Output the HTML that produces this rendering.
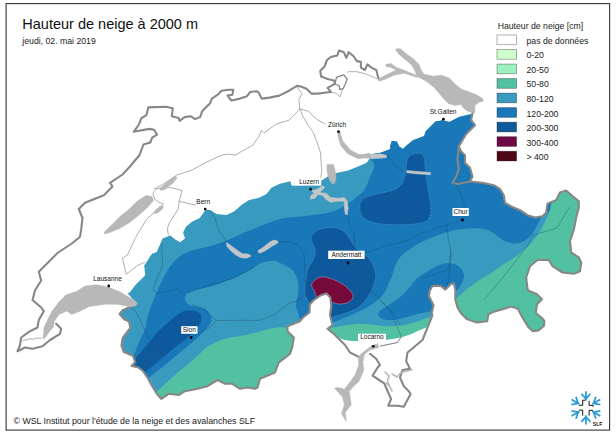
<!DOCTYPE html>
<html lang="fr"><head><meta charset="utf-8"><title>Hauteur de neige à 2000 m</title>
<style>
html,body{margin:0;padding:0;background:#fff}
body{width:616px;height:435px;overflow:hidden}
svg{display:block}
text{font-family:"Liberation Sans",sans-serif;fill:#111}
.t{font-size:14.5px}
.l{font-size:8.7px;fill:#1a1a1a}
.s{font-size:8.7px;fill:#1a1a1a}
.c{font-size:6.5px}
</style></head><body>
<svg width="616" height="435" viewBox="0 0 616 435">
<defs><clipPath id="d"><path d="M127.5,293.0 L129.5,292.8 L135.4,285.0 L145.2,275.2 L144.2,265.4 L152.0,253.7 L156.7,252.1 L160.6,243.3 L162.5,238.4 L170.4,235.5 L175.2,239.4 L180.1,242.3 L185.0,238.4 L183.1,232.5 L186.0,226.7 L191.9,221.8 L199.7,217.9 L205.5,210.0 L210.0,210.0 L216.5,214.0 L226.5,215.0 L234.0,211.5 L241.5,205.0 L249.0,200.0 L259.0,197.8 L266.5,194.0 L271.5,187.8 L279.8,183.7 L290.5,181.3 L291.5,185.6 L308.0,185.0 L321.2,180.7 L328.6,175.9 L336.4,172.9 L348.2,170.5 L358.0,166.5 L366.8,162.8 L369.2,159.0 L373.0,154.0 L380.5,152.8 L390.5,149.0 L390.0,146.5 L391.8,141.0 L396.8,141.5 L399.2,146.5 L403.0,149.0 L406.8,145.2 L413.0,140.2 L424.2,136.0 L425.5,131.5 L430.5,126.5 L435.5,121.5 L443.0,120.2 L449.3,122.0 L459.0,117.0 L473.7,113.6 L472.5,112.8 L471.2,120.2 L475.0,125.2 L466.2,134.0 L458.8,146.5 L461.2,151.5 L465.0,155.2 L465.0,162.8 L470.0,167.8 L472.5,176.5 L470.0,181.5 L482.5,182.8 L493.8,185.2 L500.0,189.0 L503.8,195.2 L505.0,202.8 L511.2,206.5 L520.0,210.2 L527.5,215.2 L535.0,217.5 L542.5,216.2 L546.2,212.5 L547.5,203.8 L556.2,200.0 L560.0,192.5 L566.2,190.5 L571.2,195.0 L578.8,201.2 L578.8,207.5 L576.2,217.5 L573.8,230.0 L570.0,241.2 L571.2,252.5 L578.8,257.5 L581.2,262.5 L580.0,271.2 L573.8,273.8 L562.5,272.5 L552.5,266.2 L548.8,260.0 L537.5,260.0 L530.0,266.2 L526.2,277.5 L527.5,288.8 L528.2,290.5 L537.0,294.2 L542.0,299.2 L537.0,304.2 L535.8,313.0 L542.0,318.0 L544.3,321.0 L544.1,325.8 L538.5,330.4 L532.8,331.3 L528.2,326.9 L521.4,315.6 L518.0,308.7 L511.1,306.6 L504.3,308.7 L492.9,312.1 L488.3,314.4 L487.2,321.3 L476.9,322.4 L466.7,319.0 L461.0,313.3 L457.6,307.6 L455.3,299.6 L455.3,290.5 L454.0,283.3 L450.9,284.0 L445.4,289.6 L440.8,285.9 L432.5,285.9 L429.8,290.5 L428.9,296.0 L433.5,305.2 L431.6,313.5 L432.5,315.0 L427.5,327.5 L422.5,340.0 L415.0,346.2 L407.5,352.5 L406.2,361.2 L410.0,368.8 L402.5,370.0 L400.0,377.5 L403.8,386.2 L408.8,391.2 L410.6,394.0 L403.8,406.8 L397.9,405.8 L388.2,405.8 L391.1,399.0 L387.2,390.2 L384.3,383.4 L378.4,379.5 L372.6,375.6 L377.5,367.8 L380.0,365.0 L376.2,358.8 L370.0,353.8 L362.5,360.0 L357.5,356.2 L350.0,352.5 L345.0,345.0 L335.0,335.0 L327.5,328.8 L332.5,325.0 L330.0,315.0 L331.3,306.5 L330.3,297.5 L326.5,293.5 L321.0,295.2 L313.3,300.5 L309.8,304.5 L309.5,312.5 L303.0,317.5 L300.0,321.2 L287.5,326.2 L287.5,331.2 L293.8,337.5 L292.5,346.2 L290.0,353.8 L278.8,362.5 L275.0,372.5 L260.0,378.8 L257.5,387.5 L255.0,388.8 L247.5,387.5 L240.0,388.8 L232.5,383.8 L225.0,383.8 L217.5,380.0 L207.5,386.2 L197.5,388.8 L185.0,391.2 L178.8,395.0 L168.8,393.8 L161.2,398.8 L157.0,394.0 L152.0,386.0 L148.0,378.5 L143.0,371.0 L137.8,367.2 L131.5,365.9 L135.3,362.1 L132.8,355.8 L123.9,352.0 L121.4,345.6 L122.7,338.0 L126.5,333.0 L130.3,327.9 L129.0,321.6 L123.9,319.0 L119.6,314.0 L122.7,310.2 L136.6,303.9Z"/></clipPath></defs>
<rect width="616" height="435" fill="#fff"/>
<g clip-path="url(#d)">
<rect x="100" y="100" width="500" height="320" fill="#3a9ac0"/>
<path d="M300.0,326.0 C297.9,326.2 291.2,327.2 287.5,327.5 C283.8,327.8 281.2,327.1 277.5,327.5 C273.8,327.9 268.8,329.1 265.0,330.0 C261.2,330.9 258.1,332.0 255.0,332.8 C251.9,333.6 250.5,334.1 246.7,334.9 C242.9,335.6 236.6,336.3 232.1,337.3 C227.6,338.3 223.6,339.1 219.5,340.7 C215.4,342.2 211.1,344.5 207.8,346.6 C204.6,348.7 203.0,350.9 200.0,353.5 C197.0,356.1 194.2,358.9 190.0,362.5 C185.8,366.1 179.6,371.0 175.0,375.0 C170.4,379.0 165.6,383.3 162.5,386.2 C159.4,389.2 158.7,389.9 156.2,392.5 C153.8,395.1 149.4,400.4 148.0,402.0 L148,420 L300,420 Z" fill="#52c1a2"/>
<path d="M125.0,362.0 C126.0,361.2 129.6,359.1 131.2,357.5 C132.9,355.9 133.8,355.0 135.0,352.5 C136.2,350.0 137.3,345.8 138.8,342.5 C140.2,339.2 142.5,335.4 143.8,332.5 C145.0,329.6 145.6,327.4 146.2,325.0 C146.8,322.6 146.4,321.0 147.1,318.2 C147.8,315.4 148.8,312.0 150.1,308.4 C151.4,304.8 153.4,300.3 154.9,296.7 C156.4,293.1 157.3,290.5 158.9,286.9 C160.5,283.3 162.8,278.8 164.7,275.2 C166.6,271.6 168.3,268.3 170.6,265.4 C172.9,262.5 175.5,259.9 178.4,257.6 C181.3,255.3 183.3,253.5 188.2,251.7 C193.1,249.9 202.4,248.2 207.7,246.8 C213.0,245.4 215.8,244.5 220.0,243.0 C224.2,241.5 228.7,239.6 233.1,237.7 C237.5,235.8 241.8,233.7 246.2,231.8 C250.6,230.0 254.9,228.3 259.3,226.6 C263.7,224.9 268.0,222.8 272.4,221.4 C276.8,220.0 280.8,218.9 285.4,218.1 C290.0,217.3 295.7,217.1 300.0,216.6 C304.3,216.1 306.9,215.7 311.0,215.2 C315.1,214.7 320.5,214.4 324.7,213.6 C328.9,212.8 332.5,211.8 336.4,210.1 C340.3,208.4 344.3,205.8 348.2,203.2 C352.1,200.6 357.0,197.0 359.9,194.4 C362.8,191.8 364.2,190.4 365.8,187.6 C367.4,184.8 368.3,181.3 369.7,177.8 C371.1,174.3 374.0,169.6 374.2,166.5 C374.5,163.4 372.0,161.8 371.0,159.0 C370.0,156.2 368.5,151.5 368.0,150.0 L368,100 L600,100 L600,214 L545.0,212.0 C544.1,213.5 541.7,217.2 539.6,220.8 C537.5,224.4 534.8,230.4 532.2,233.8 C529.6,237.2 527.2,239.4 524.2,241.0 C521.2,242.6 517.7,243.5 514.5,243.5 C511.3,243.5 507.6,242.2 504.8,241.0 C502.1,239.8 500.1,237.9 498.0,236.5 C495.9,235.1 495.1,233.8 492.5,232.5 C489.9,231.2 487.1,229.4 482.5,228.8 C477.9,228.1 470.4,228.3 465.0,228.8 C459.6,229.2 455.0,230.0 450.0,231.2 C445.0,232.5 440.0,234.3 435.0,236.2 C430.0,238.2 424.2,240.6 420.0,242.8 C415.8,245.0 413.1,246.9 409.9,249.2 C406.7,251.5 403.1,253.8 400.7,256.5 C398.2,259.2 396.6,262.6 395.2,265.7 C393.8,268.8 393.5,271.8 392.4,274.9 C391.3,278.0 390.1,281.0 388.7,284.1 C387.3,287.2 386.1,290.5 384.1,293.3 C382.1,296.1 379.6,298.4 376.8,300.7 C374.1,303.0 371.0,305.1 367.6,307.1 C364.2,309.1 360.2,310.9 356.5,312.6 C352.8,314.3 349.4,315.8 345.5,317.4 C341.6,319.0 336.9,320.9 333.0,322.5 C329.1,324.1 323.8,326.2 322.0,327.0 L310,335 L302.0,322.0 C301.7,321.7 300.8,321.4 300.2,320.0 C299.6,318.6 299.2,316.2 298.4,313.6 C297.6,311.0 295.8,307.2 295.6,304.4 C295.5,301.6 297.0,300.1 297.5,297.0 C298.0,293.9 298.7,289.7 298.4,286.0 C298.1,282.3 297.1,278.1 295.6,275.0 C294.1,271.9 291.8,269.6 289.2,267.6 C286.6,265.6 282.5,264.1 280.0,263.0 C277.5,261.9 277.1,260.8 274.0,260.8 C270.9,260.8 265.7,261.4 261.5,263.0 C257.3,264.6 253.6,268.0 249.0,270.5 C244.4,273.0 239.8,275.5 234.0,278.0 C228.2,280.5 219.8,283.6 214.0,285.5 C208.2,287.4 203.3,288.1 199.0,289.2 C194.7,290.4 190.3,291.3 188.0,292.5 C185.7,293.7 185.6,295.3 185.2,296.7 C184.8,298.1 184.8,299.1 185.6,300.6 C186.4,302.1 187.1,304.2 190.1,305.5 C193.1,306.8 200.5,306.9 203.8,308.4 C207.1,309.9 208.4,312.1 209.7,314.3 C211.0,316.5 212.2,318.9 211.4,321.5 C210.6,324.1 207.7,326.9 205.0,330.0 C202.3,333.1 199.2,336.2 195.0,340.0 C190.8,343.8 185.0,348.3 180.0,352.5 C175.0,356.7 169.6,361.2 165.0,365.0 C160.4,368.8 156.3,371.8 152.5,375.0 C148.7,378.2 143.8,382.5 142.0,384.0 L120,384 Z" fill="#1a78b9"/>
<path d="M554.0,196.0 C553.6,197.3 552.4,200.5 551.4,203.6 C550.4,206.7 550.1,210.0 548.3,214.5 C546.4,219.0 543.2,225.8 540.3,230.6 C537.3,235.4 534.6,239.2 530.6,243.5 C526.6,247.8 521.2,252.5 516.1,256.4 C511.0,260.3 504.0,264.1 500.0,266.8 C496.0,269.5 495.8,270.1 492.0,272.5 C488.2,274.9 481.6,278.5 477.5,281.2 C473.4,284.0 470.7,286.1 467.5,288.8 C464.3,291.4 461.2,294.5 458.3,296.9 C455.4,299.3 451.4,302.0 450.0,303.0 L445,345 L600,345 L600,180 L554,180 Z" fill="#52c1a2"/>
<path d="M443.6,263.8 C447.0,263.0 450.1,263.2 452.8,263.8 C455.6,264.4 458.3,265.8 460.1,267.5 C461.9,269.2 463.3,271.6 463.8,273.9 C464.3,276.2 463.8,278.9 462.9,281.3 C462.0,283.8 460.4,285.5 458.3,288.6 C456.2,291.7 453.1,296.4 450.0,300.0 C446.9,303.6 443.2,308.1 440.0,310.0 C436.8,311.9 434.1,311.0 430.7,311.6 C427.3,312.2 423.7,312.6 419.7,313.5 C415.7,314.4 411.1,316.0 406.8,317.1 C402.5,318.2 397.9,319.6 393.9,319.9 C389.9,320.2 385.5,319.8 382.9,319.0 C380.3,318.2 378.8,316.7 378.3,315.3 C377.8,313.9 378.4,312.4 380.1,310.7 C381.8,309.0 385.2,307.3 388.4,305.2 C391.6,303.1 396.0,300.6 399.4,297.8 C402.8,295.0 405.8,291.7 408.6,288.6 C411.4,285.5 413.6,281.8 416.0,279.4 C418.4,276.9 420.6,275.7 423.3,273.9 C426.1,272.1 429.1,270.1 432.5,268.4 C435.9,266.7 440.2,264.6 443.6,263.8Z" fill="#1a78b9"/>
<path d="M322.0,330.0 C322.9,329.8 324.5,329.4 327.5,328.8 C330.5,328.1 334.6,327.1 340.0,326.2 C345.4,325.4 354.2,324.0 360.0,323.8 C365.8,323.5 370.3,324.6 375.0,325.0 C379.7,325.4 383.1,326.4 388.4,326.3 C393.7,326.2 401.3,325.6 406.8,324.5 C412.3,323.4 417.4,321.3 421.5,319.9 C425.6,318.5 428.9,317.3 431.6,316.2 C434.4,315.1 436.9,313.5 438.0,313.0 L438,345 L322,345 Z" fill="#52c1a2"/>
<path d="M330.0,334.0 C331.0,334.4 333.8,335.2 336.2,336.2 C338.8,337.2 341.0,339.2 345.0,340.0 C349.0,340.8 353.3,341.2 360.0,341.2 C366.7,341.2 377.5,340.8 385.0,340.0 C392.5,339.2 399.2,337.9 405.0,336.2 C410.8,334.6 416.0,331.7 420.0,330.0 C424.0,328.3 426.1,327.6 428.8,326.2 C431.4,324.9 434.8,322.7 436.0,322.0 L440,420 L330,420 Z" fill="#fff"/>
<path d="M408.0,157.8 C409.0,156.3 410.9,154.7 413.0,154.0 C415.1,153.3 418.6,152.9 420.5,153.5 C422.4,154.1 423.4,154.8 424.2,157.8 C425.1,160.8 424.9,166.3 425.5,171.5 C426.1,176.7 427.2,183.6 428.0,189.0 C428.8,194.4 430.1,199.9 430.5,204.0 C430.9,208.1 431.1,210.8 430.5,213.5 C429.9,216.2 429.2,218.8 427.0,220.5 C424.8,222.2 422.2,222.9 417.0,223.6 C411.8,224.3 401.8,224.7 395.5,224.7 C389.2,224.7 384.0,224.3 379.4,223.6 C374.8,222.9 370.8,221.9 367.7,220.3 C364.6,218.7 362.3,216.5 361.0,214.0 C359.7,211.5 359.4,207.8 359.9,205.2 C360.4,202.6 361.2,200.1 363.8,198.3 C366.4,196.5 370.6,195.7 375.5,194.4 C380.4,193.1 388.6,192.0 393.0,190.2 C397.4,188.5 399.7,186.7 401.8,184.0 C403.8,181.3 404.7,177.5 405.5,174.0 C406.3,170.5 406.3,165.5 406.8,162.8 C407.2,160.0 407.0,159.2 408.0,157.8Z" fill="#0f5a9b" stroke="#6fa9d6" stroke-width="0.4" stroke-dasharray="2 1.2"/>
<path d="M311.3,240.0 C310.9,237.6 311.2,236.7 312.5,235.0 C313.8,233.3 316.2,230.8 318.9,229.6 C321.6,228.4 325.4,227.9 328.6,227.7 C331.9,227.5 335.5,227.6 338.4,228.6 C341.3,229.6 343.9,231.2 346.2,233.5 C348.5,235.8 350.5,239.9 352.1,242.3 C353.7,244.8 354.5,246.8 356.0,248.2 C357.5,249.6 358.6,249.0 361.0,251.0 C363.4,253.0 367.8,257.1 370.1,260.2 C372.4,263.3 373.8,266.6 374.7,269.4 C375.6,272.2 376.0,273.7 375.7,276.8 C375.4,279.9 374.4,284.1 372.9,287.8 C371.4,291.5 369.1,295.5 366.5,298.9 C363.9,302.3 361.0,305.7 357.3,308.1 C353.6,310.6 348.1,312.2 344.4,313.6 C340.7,315.0 338.4,315.2 335.2,316.3 C332.0,317.4 328.9,320.7 325.0,320.0 C321.1,319.3 314.6,314.8 312.0,312.0 C309.4,309.2 310.3,305.7 309.4,303.5 C308.5,301.3 307.5,300.9 306.7,298.9 C305.9,296.9 304.9,294.3 304.8,291.5 C304.7,288.7 305.5,285.4 305.8,282.3 C306.1,279.2 306.1,275.9 306.7,273.1 C307.3,270.4 308.2,268.2 309.4,265.8 C310.6,263.4 313.1,261.2 314.0,258.4 C314.9,255.6 315.4,252.3 315.0,249.2 C314.6,246.1 311.7,242.4 311.3,240.0Z" fill="#0f5a9b" stroke="#5b9fd0" stroke-width="0.4"/>
<path d="M187.5,310.5 C190.0,310.3 193.8,310.4 196.0,311.2 C198.2,312.0 200.1,313.6 200.9,315.2 C201.8,316.8 201.7,318.9 201.1,321.0 C200.5,323.1 199.8,324.8 197.5,327.5 C195.2,330.2 191.2,334.2 187.5,337.5 C183.8,340.8 179.6,343.8 175.0,347.5 C170.4,351.2 164.6,356.2 160.0,360.0 C155.4,363.8 151.2,367.3 147.5,370.0 C143.8,372.7 141.2,376.3 138.0,376.0 C134.8,375.7 128.5,370.9 128.0,368.0 C127.5,365.1 132.2,362.2 135.0,358.8 C137.8,355.3 141.2,351.9 145.0,347.5 C148.8,343.1 152.9,337.3 157.5,332.5 C162.1,327.7 168.6,322.1 172.5,318.8 C176.4,315.4 178.5,313.9 181.0,312.5 C183.5,311.1 185.0,310.7 187.5,310.5Z" fill="#0f5a9b"/>
<path d="M312.0,283.7 C312.9,282.1 315.5,279.0 317.8,277.9 C320.1,276.8 322.6,276.7 325.6,277.1 C328.6,277.6 332.5,279.1 335.8,280.6 C339.1,282.1 342.6,284.2 345.2,286.1 C347.8,288.1 350.1,290.6 351.4,292.3 C352.7,294.0 353.0,294.9 353.0,296.2 C353.0,297.5 352.6,298.9 351.4,300.1 C350.2,301.3 348.1,302.7 345.9,303.3 C343.7,303.9 340.3,304.1 338.1,304.0 C335.9,303.9 334.7,302.7 332.7,302.5 C330.7,302.3 328.4,303.4 326.0,303.0 C323.6,302.6 319.9,301.9 318.0,300.0 C316.1,298.1 315.6,293.6 314.7,291.5 C313.8,289.4 312.8,288.9 312.3,287.6 C311.9,286.3 311.1,285.3 312.0,283.7Z" fill="#750a3b" stroke="#c9a5c5" stroke-width="0.5"/>
</g>
<g fill="none" stroke="#8c8c8c" stroke-width="0.7"><path d="M401.5,337.0 L397.5,342.5 L380.0,346.2"/><path d="M22.5,340.6 L27.0,339.8 L30.0,338.6 L33.0,339.5 L36.0,338.0 L41.9,338.3"/><path d="M154.0,189.0 L161.5,185.2 L176.5,175.2 L191.5,170.2 L207.8,161.5 L221.5,155.2 L229.0,154.0 L235.2,155.2 L241.5,151.5 L252.8,145.2 L259.0,136.5 L261.5,130.2 L264.0,132.8 L276.5,124.0 L289.0,120.2 L299.0,110.2 L299.8,108.3"/><path d="M296.9,86.8 L301.8,93.7 L298.9,99.5 L299.8,108.3"/><path d="M299.8,108.3 L302.8,116.2 L308.6,125.9 L313.5,132.8 L316.4,140.6 L320.4,152.3 L321.3,165.0 L321.8,171.5 L320.0,182.0"/><path d="M300.5,109.0 L308.6,111.3 L316.4,119.1 L325.2,124.0"/><path d="M330.8,91.9 L336.5,93.6 L339.8,96.8 L343.0,88.7"/><path d="M347.0,72.5 L348.7,71.7 L356.8,71.7 L366.6,74.1 L375.5,78.1 L379.5,79.8"/><path d="M156.7,188.6 L152.8,193.5 L154.7,199.3 L158.6,202.2 L163.5,204.0 L154.7,212.0 L146.9,218.9 L142.0,226.7 L135.2,238.4 L127.4,255.0 L122.5,258.0 L126.2,274.2 L137.5,265.5 L145.0,262.0"/><path d="M156.7,188.6 L171.3,187.6 L182.1,190.5 L179.1,201.3 L191.9,204.2 L196.0,205.0"/><path d="M179.1,201.3 L178.2,209.1 L169.4,222.8 L167.4,228.6 L168.4,235.5"/></g>
<g fill="none" stroke="#1c4a63" stroke-width="0.5" opacity="0.75" clip-path="url(#d)"><path d="M205.2,209.1 L211.0,211.5 L215.2,218.0 L217.8,228.0 L226.5,241.8"/><path d="M250.0,256.0 L257.8,251.0"/><path d="M278.0,241.5 L289.0,241.8 L299.0,245.5 L304.0,253.0 L305.2,278.0 L306.5,293.0"/><path d="M186.5,293.0 L199.0,288.5 L211.5,284.2 L234.0,278.0 L254.0,266.8"/><path d="M191.5,304.2 L204.0,309.0 L216.5,320.5 L245.0,320.3 L259.0,320.5 L274.0,315.0 L289.0,303.0 L297.5,301.0 L307.5,292.5"/><path d="M161.8,243.0 L161.8,249.8 L162.8,265.4 L156.9,279.1 L153.0,288.9 L156.9,293.7 L168.6,290.8 L178.4,288.9 L185.2,296.7"/><path d="M130.0,307.5 L133.5,308.4 L139.3,318.2 L145.0,330.0 L152.5,345.0 L157.5,352.5"/><path d="M191.2,337.5 L210.0,327.5 L216.5,320.5"/><path d="M347.2,215.0 L350.1,226.7 L354.0,234.5 L355.0,248.2"/><path d="M388.0,155.2 L395.5,166.5 L404.2,171.5"/><path d="M456.2,184.0 L461.2,196.5 L465.0,209.0 L466.2,217.8 L462.5,220.0 L446.2,225.0 L420.0,233.8"/><path d="M446.2,225.0 L451.2,255.0 L448.8,280.0 L447.0,285.0"/><path d="M420.0,233.8 L408.0,240.5 L383.0,246.8 L365.5,253.0"/><path d="M450.9,250.0 L449.1,264.7 L447.3,270.2 L421.5,278.5"/><path d="M348.0,263.0 L363.0,285.0 L377.4,296.0 L390.2,310.7 L395.8,323.6 L401.2,336.2 L397.5,342.5 L380.0,346.2"/><path d="M380.0,300.0 L392.5,312.5 L400.0,325.0"/><path d="M569.5,207.0 L557.0,228.0 L532.0,235.5 L529.5,243.0 L504.5,275.5 L484.5,299.2"/><path d="M333.0,246.0 L348.0,263.0"/></g>
<g fill="none" stroke="#878787" stroke-width="2.1" stroke-linejoin="round" stroke-linecap="round">
<path d="M472.5,112.8 L471.2,120.2 L475.0,125.2 L466.2,134.0 L458.8,146.5 L461.2,151.5 L465.0,155.2 L465.0,162.8 L470.0,167.8 L472.5,176.5 L470.0,181.5 L482.5,182.8 L493.8,185.2 L500.0,189.0 L503.8,195.2 L505.0,202.8 L511.2,206.5 L520.0,210.2 L527.5,215.2 L535.0,217.5 L542.5,216.2 L546.2,212.5 L547.5,203.8 L556.2,200.0 L560.0,192.5 L566.2,190.5 L571.2,195.0 L578.8,201.2 L578.8,207.5 L576.2,217.5 L573.8,230.0 L570.0,241.2 L571.2,252.5 L578.8,257.5 L581.2,262.5 L580.0,271.2 L573.8,273.8 L562.5,272.5 L552.5,266.2 L548.8,260.0 L537.5,260.0 L530.0,266.2 L526.2,277.5 L527.5,288.8 L528.2,290.5 L537.0,294.2 L542.0,299.2 L537.0,304.2 L535.8,313.0 L542.0,318.0 L544.3,321.0 L544.1,325.8 L538.5,330.4 L532.8,331.3 L528.2,326.9 L521.4,315.6 L518.0,308.7 L511.1,306.6 L504.3,308.7 L492.9,312.1 L488.3,314.4 L487.2,321.3 L476.9,322.4 L466.7,319.0 L461.0,313.3 L457.6,307.6 L455.3,299.6 L455.3,290.5 L454.0,283.3 L450.9,284.0 L445.4,289.6 L440.8,285.9 L432.5,285.9 L429.8,290.5 L428.9,296.0 L433.5,305.2 L431.6,313.5 L432.5,315.0 L427.5,327.5 L422.5,340.0 L415.0,346.2 L407.5,352.5 L406.2,361.2 L410.0,368.8 L402.5,370.0 L400.0,377.5 L403.8,386.2 L408.8,391.2 L410.6,394.0 L403.8,406.8 L397.9,405.8 L388.2,405.8 L391.1,399.0 L387.2,390.2 L384.3,383.4 L378.4,379.5 L372.6,375.6 L377.5,367.8 L380.0,365.0 L376.2,358.8 L370.0,353.8"/><path d="M362.5,360.0 L357.5,356.2 L350.0,352.5 L345.0,345.0 L335.0,335.0 L327.5,328.8 L332.5,325.0 L330.0,315.0 L331.3,306.5 L330.3,297.5 L326.5,293.5 L321.0,295.2 L313.3,300.5 L309.8,304.5 L309.5,312.5 L303.0,317.5 L300.0,321.2 L287.5,326.2 L287.5,331.2 L293.8,337.5 L292.5,346.2 L290.0,353.8 L278.8,362.5 L275.0,372.5 L260.0,378.8 L257.5,387.5 L255.0,388.8 L247.5,387.5 L240.0,388.8 L232.5,383.8 L225.0,383.8 L217.5,380.0 L207.5,386.2 L197.5,388.8 L185.0,391.2 L178.8,395.0 L168.8,393.8 L161.2,398.8 L157.0,394.0 L152.0,386.0 L148.0,378.5 L143.0,371.0 L137.8,367.2 L131.5,365.9 L135.3,362.1 L132.8,355.8 L123.9,352.0 L121.4,345.6 L122.7,338.0 L126.5,333.0 L130.3,327.9 L129.0,321.6 L123.9,319.0 L119.6,314.0 L122.7,310.2 L136.6,303.9"/><path d="M56.2,323.8 L61.2,328.8 L60.0,333.8 L50.0,340.0 L42.5,346.2 L32.5,348.8 L25.0,347.5 L17.5,351.2 L20.0,345.0 L21.2,337.5 L30.0,331.2 L37.5,327.5 L38.8,320.0 L43.8,311.2 L41.2,307.5 L32.5,300.0 L35.0,290.5 L41.2,280.5 L38.8,271.8 L57.5,253.0 L72.5,243.0 L80.0,236.8 L81.2,229.2 L82.5,218.0 L78.8,209.0 L85.0,202.8 L103.8,195.2 L112.5,186.5 L110.0,182.8 L122.5,174.5 L130.0,166.5 L136.2,159.0 L139.5,155.2 L143.5,144.5 L150.3,142.5 L152.2,137.7 L157.1,134.7 L154.2,129.8 L149.3,128.9 L133.7,131.8 L138.6,125.0 L141.5,118.1 L146.4,115.2 L148.3,107.4 L165.9,106.8 L172.8,108.3 L171.8,116.2 L178.6,118.1 L179.6,121.0 L184.5,117.1 L190.4,116.2 L195.2,119.1 L200.1,117.1 L202.1,111.3 L205.0,108.3 L209.9,103.5 L211.9,98.6 L217.7,94.7 L221.6,90.7 L228.5,89.8 L233.3,89.8 L232.4,94.7 L227.5,95.6 L231.4,100.5 L240.0,98.6 L247.0,96.2 L250.2,92.0 L256.5,91.2 L258.8,92.7 L261.7,98.6 L269.5,97.6 L279.3,95.6 L289.1,90.7 L296.9,85.9 L300.0,86.3 L306.5,88.7 L311.4,93.6 L317.9,93.6 L324.4,92.8 L330.8,91.9 L327.6,87.9 L334.9,83.8 L334.1,80.6 L327.6,79.0 L321.1,76.5 L320.3,70.8 L324.4,66.8 L326.8,60.3 L330.8,57.0 L337.3,55.4 L339.0,50.6 L343.8,52.2 L346.3,57.9 L348.7,52.2 L353.6,56.2 L356.8,61.1 L360.9,61.9 L360.9,67.6 L364.9,70.0 L367.4,64.4 L371.4,67.6 L376.3,70.0 L377.9,76.5 L379.5,79.8 L384.4,78.1"/><path d="M458.8,146.5 L457.5,159.0 L458.8,169.0 L456.2,176.5 L452.5,182.8 L457.5,184.0 L470.0,181.5"/><path d="M334.9,83.8 L336.5,77.3 L343.8,74.9 L347.1,79.0 L345.5,83.8 L343.0,88.7 L339.8,89.5 L339.0,85.5 L335.5,84.5" stroke-width="1.3"/>
</g>
<g fill="#b8b8b8" stroke="#b8b8b8" stroke-width="0.5" stroke-linejoin="round"><path d="M43.0,338.3 L44.2,326.9 L47.6,320.1 L52.1,311.0 L59.0,301.9 L65.8,295.1 L76.1,291.6 L85.2,285.9 L96.6,284.8 L107.9,287.1 L119.3,291.6 L130.7,298.2 L135.2,300.8 L137.3,303.2 L136.0,305.6 L131.5,306.7 L128.5,306.4 L117.1,304.2 L105.7,304.2 L89.7,306.4 L80.6,311.0 L71.5,314.4 L66.9,311.0 L59.0,314.4 L54.4,321.3 L53.3,326.9 L48.7,332.6 L44.6,338.5Z"/><path d="M103.9,232.5 L109.8,226.7 L119.5,216.9 L129.3,209.1 L137.1,201.3 L145.9,195.4 L151.8,196.4 L153.7,200.3 L147.9,207.1 L139.1,215.0 L129.3,222.8 L119.5,228.6 L109.8,232.5 L104.9,234.1Z"/><path d="M159.6,188.6 L166.4,182.7 L175.2,175.9 L177.2,177.8 L172.3,183.7 L164.5,189.5 L160.6,190.5Z"/><path d="M153.7,212.0 L159.6,206.2 L163.5,206.2 L162.5,209.1 L157.7,213.0 L154.3,213.4Z"/><path d="M226.3,242.6 L230.5,245.2 L237.0,250.0 L242.3,253.8 L248.1,253.9 L251.4,256.0 L246.2,258.2 L240.9,257.7 L235.7,255.0 L230.5,250.5 L227.0,246.4Z" fill="#c3c6c9" stroke="#c3c6c9"/><path d="M258.0,250.6 L263.2,247.3 L269.7,242.1 L273.7,240.1 L277.8,240.9 L277.8,243.1 L272.4,245.9 L265.8,250.5 L260.6,253.0 L258.1,252.6Z" fill="#c3c6c9" stroke="#c3c6c9"/><path d="M312.0,190.5 L316.9,189.5 L322.8,185.6 L324.7,187.6 L319.8,192.5 L326.7,193.5 L330.6,197.4 L338.4,198.3 L344.3,197.4 L347.2,201.3 L348.2,208.1 L347.2,214.9 L345.2,214.0 L344.3,207.1 L344.3,201.3 L336.4,201.3 L330.6,202.2 L325.7,199.3 L322.8,195.4 L317.9,194.4 L314.9,198.3 L310.1,199.3 L311.0,195.4 L314.0,193.5Z" fill="#c3c6c9" stroke="#c3c6c9"/><path d="M327.0,164.5 L333.5,164.5 L335.0,170.0 L336.0,177.0 L334.8,183.0 L332.3,184.0 L329.5,180.0 L327.5,174.0 L326.8,168.0Z"/><path d="M337.3,131.5 L340.0,131.5 L342.6,141.0 L350.5,150.0 L358.5,154.3 L364.5,154.2 L368.5,153.0 L372.0,155.0 L380.0,154.0 L386.0,155.3 L386.3,157.5 L380.0,158.0 L372.0,158.6 L365.0,158.0 L358.0,158.8 L348.0,154.0 L341.0,146.0 L338.7,139.0Z"/><path d="M406.8,170.5 L418.0,171.5 L430.5,172.5 L430.5,174.7 L418.0,174.0 L406.8,172.8Z" fill="#c3c6c9" stroke="#c3c6c9"/><path d="M371.5,154.8 L380.0,154.0 L386.0,155.3 L386.3,157.5 L380.0,158.0 L371.5,158.6Z" fill="#c3c6c9" stroke="#c3c6c9"/><path d="M396.5,48.8 L400.4,48.8 L406.3,53.7 L414.1,59.5 L419.0,64.4 L420.9,69.3 L423.9,74.2 L433.6,76.2 L441.4,75.2 L449.3,78.1 L455.1,84.0 L461.0,88.9 L468.8,91.8 L476.6,94.7 L482.5,98.6 L483.5,101.0 L478.6,102.5 L474.9,105.5 L474.9,112.6 L471.7,112.3 L467.8,111.3 L463.9,108.4 L461.0,104.5 L455.1,105.5 L448.3,103.5 L444.4,99.6 L439.5,93.7 L433.6,86.9 L425.8,81.0 L417.0,76.4 L415.1,71.3 L412.1,65.4 L406.3,60.5 L399.4,54.7 L395.5,49.8Z"/><path d="M385.7,64.4 L391.0,63.5 L396.5,67.4 L404.3,70.3 L417.0,75.6 L417.0,77.6 L404.3,73.2 L394.0,75.2 L385.0,79.2 L379.3,81.0 L378.5,78.8 L384.0,76.0 L392.0,72.0 L396.0,70.0 L391.0,67.5 L386.0,66.5Z"/><path d="M377.5,343.8 L378.8,347.5 L370.0,350.0 L365.0,353.8 L362.5,360.0 L363.8,370.0 L359.0,381.4 L355.0,385.0 L349.2,391.2 L351.2,404.8 L345.3,412.6 L346.3,421.4 L341.4,413.6 L344.4,404.8 L342.4,397.0 L334.6,388.2 L338.0,387.3 L344.4,389.2 L350.0,382.0 L355.0,375.0 L358.8,365.0 L358.0,357.0 L361.2,353.8 L367.5,348.8 L372.0,345.5Z"/></g>
<g fill="none" stroke="#b8b8b8" stroke-width="1.6" stroke-linecap="round"><path d="M385.0,372.0 L389.0,376.0 L387.5,381.0 L389.5,386.0 L392.0,391.0"/><path d="M392.0,374.0 L397.0,377.0 L401.0,372.5 L412.0,369.7"/><path d="M389.5,386.0 L386.0,383.0"/></g>
<text x="203.2" y="203.6" text-anchor="middle" class="c">Bern</text><circle cx="205.2" cy="209.1" r="1.4" fill="#050510"/><text x="107.5" y="280.6" text-anchor="middle" class="c">Lausanne</text><circle cx="108.75" cy="286" r="1.4" fill="#050510"/><text x="337.0" y="126.6" text-anchor="middle" class="c">Zürich</text><circle cx="338.5" cy="131.6" r="1.4" fill="#050510"/><text x="443.0" y="113.6" text-anchor="middle" class="c">St.Gallen</text><circle cx="443.4" cy="119.2" r="1.4" fill="#050510"/><rect x="293" y="177.8" width="28.2" height="7.8" fill="#fff"/><text x="309.1" y="183.7" text-anchor="middle" class="c">Luzern</text><circle cx="310.6" cy="189.2" r="1.4" fill="#050510"/><rect x="452.5" y="208" width="16.3" height="8" fill="#fff"/><text x="460.6" y="214.1" text-anchor="middle" class="c">Chur</text><circle cx="462.5" cy="220" r="1.4" fill="#050510"/><rect x="328.2" y="250.7" width="36.4" height="8.3" fill="#fff"/><text x="346.4" y="257.1" text-anchor="middle" class="c">Andermatt</text><circle cx="348" cy="263" r="1.4" fill="#050510"/><rect x="181.2" y="326.2" width="16.3" height="7.6" fill="#fff"/><text x="189.3" y="331.9" text-anchor="middle" class="c">Sion</text><circle cx="191.2" cy="337.5" r="1.4" fill="#050510"/><rect x="358" y="333.7" width="28" height="7.6" fill="#fff"/><text x="372.0" y="339.4" text-anchor="middle" class="c">Locarno</text><circle cx="373.3" cy="346.3" r="1.4" fill="#050510"/>
<text x="497.7" y="28.6" class="l">Hauteur de neige [cm]</text><rect x="497" y="35.00" width="19.6" height="9.7" fill="#ffffff" stroke="#000" stroke-opacity="0.38" stroke-width="0.8"/><text x="526.5" y="43.90" class="l">pas de données</text><rect x="497" y="49.53" width="19.6" height="9.7" fill="#ccffcc" stroke="#000" stroke-opacity="0.38" stroke-width="0.8"/><text x="526.5" y="58.43" class="l">0-20</text><rect x="497" y="64.06" width="19.6" height="9.7" fill="#9ff0bf" stroke="#000" stroke-opacity="0.38" stroke-width="0.8"/><text x="526.5" y="72.96" class="l">20-50</text><rect x="497" y="78.59" width="19.6" height="9.7" fill="#52c1a2" stroke="#000" stroke-opacity="0.38" stroke-width="0.8"/><text x="526.5" y="87.49" class="l">50-80</text><rect x="497" y="93.12" width="19.6" height="9.7" fill="#3a9ac0" stroke="#000" stroke-opacity="0.38" stroke-width="0.8"/><text x="526.5" y="102.02" class="l">80-120</text><rect x="497" y="107.65" width="19.6" height="9.7" fill="#1a78b9" stroke="#000" stroke-opacity="0.38" stroke-width="0.8"/><text x="526.5" y="116.55" class="l">120-200</text><rect x="497" y="122.18" width="19.6" height="9.7" fill="#0f5a9b" stroke="#000" stroke-opacity="0.38" stroke-width="0.8"/><text x="526.5" y="131.08" class="l">200-300</text><rect x="497" y="136.71" width="19.6" height="9.7" fill="#700a46" stroke="#000" stroke-opacity="0.38" stroke-width="0.8"/><text x="526.5" y="145.61" class="l">300-400</text><rect x="497" y="151.24" width="19.6" height="9.7" fill="#4d0718" stroke="#000" stroke-opacity="0.38" stroke-width="0.8"/><text x="526.5" y="160.14" class="l">&gt; 400</text>
<g transform="translate(585.9,407.8) rotate(0)" stroke="#259ad4" stroke-width="1.7" fill="none" stroke-linecap="butt"><path d="M0,-16.6 L0,-7.4 M-4.5,-14.1 L0,-8.9 L4.5,-14.1"/></g><g transform="translate(585.9,407.8) rotate(60)" stroke="#259ad4" stroke-width="1.7" fill="none" stroke-linecap="butt"><path d="M0,-16.6 L0,-7.4 M-4.5,-14.1 L0,-8.9 L4.5,-14.1"/></g><g transform="translate(585.9,407.8) rotate(120)" stroke="#259ad4" stroke-width="1.7" fill="none" stroke-linecap="butt"><path d="M0,-16.6 L0,-7.4 M-4.5,-14.1 L0,-8.9 L4.5,-14.1"/></g><g transform="translate(585.9,407.8) rotate(180)" stroke="#259ad4" stroke-width="1.7" fill="none" stroke-linecap="butt"><path d="M0,-16.6 L0,-7.4 M-4.5,-14.1 L0,-8.9 L4.5,-14.1"/></g><g transform="translate(585.9,407.8) rotate(240)" stroke="#259ad4" stroke-width="1.7" fill="none" stroke-linecap="butt"><path d="M0,-16.6 L0,-7.4 M-4.5,-14.1 L0,-8.9 L4.5,-14.1"/></g><g transform="translate(585.9,407.8) rotate(300)" stroke="#259ad4" stroke-width="1.7" fill="none" stroke-linecap="butt"><path d="M0,-16.6 L0,-7.4 M-4.5,-14.1 L0,-8.9 L4.5,-14.1"/></g><g transform="translate(585.9,407.8)" stroke="#111" stroke-width="1" fill="none"><path d="M-7,-2.5 H-3.2 V-7.6 H-0.4 M3.2,-7 V-2.5 H7.2 V-1 M-7,2.3 H-3.2 V7.8 M7.2,2.5 H3.2 V7.8"/></g><text x="592.8" y="425.5" style="font:bold 5.1px 'Liberation Sans',sans-serif" fill="#111">SLF</text>
<text x="22.3" y="29.2" class="t">Hauteur de neige à 2000 m</text>
<text x="22.3" y="43.7" class="s">jeudi, 02. mai 2019</text>
<text x="13.5" y="424" class="l" style="font-size:8.8px">© WSL Institut pour l'étude de la neige et des avalanches SLF</text>
<rect x="6.1" y="3.6" width="603.5" height="426.5" fill="none" stroke="#3c3c3c" stroke-width="1.15"/>
</svg>
</body></html>
